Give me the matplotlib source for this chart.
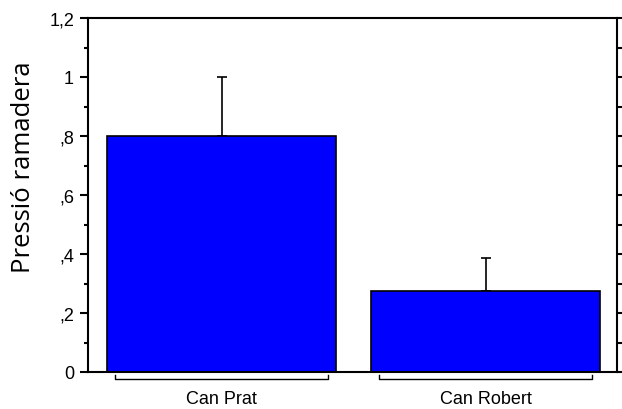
import numpy as np
import matplotlib.pyplot as plt
from matplotlib.ticker import MultipleLocator, FuncFormatter
import matplotlib.transforms as mtransforms

plt.rcParams['font.family'] = ['Liberation Sans', 'DejaVu Sans']

categories = ["Can Prat", "Can Robert"]
means = [0.80, 0.276]
upper_err = [0.20, 0.11]

fig = plt.figure(figsize=(6.22, 4.10), dpi=100)
ax = fig.add_axes([88/622, 1-373/410, 529/622, 354/410])

x = np.arange(len(categories))
ax.bar(x, means, width=0.868, color='#0000ff', edgecolor='black', linewidth=1.2, zorder=2)
ax.errorbar(x, means, yerr=[np.zeros(len(means)), upper_err], fmt='none',
            ecolor='black', elinewidth=1.2, capsize=3.5, capthick=1.2, zorder=1)

ax.set_xlim(-0.506, 1.498)
ax.set_ylim(0, 1.2)
ax.yaxis.set_major_locator(MultipleLocator(0.2))
ax.yaxis.set_minor_locator(MultipleLocator(0.1))

def fmt(v, pos):
    s = ('%g' % round(v, 2)).replace('.', ',')
    if s.startswith('0,'):
        s = s[1:]
    return s

ax.yaxis.set_major_formatter(FuncFormatter(fmt))
ax.tick_params(axis='y', which='major', length=6, width=1.5, labelsize=13, pad=4)
ax.tick_params(axis='y', which='minor', length=3, width=1.5)
ax.set_xticks([])
for s in ax.spines.values():
    s.set_linewidth(1.5)

ax2 = ax.twinx()
ax2.set_ylim(0, 1.2)
ax2.yaxis.set_major_locator(MultipleLocator(0.2))
ax2.yaxis.set_minor_locator(MultipleLocator(0.1))
ax2.tick_params(axis='y', which='both', length=3.5, width=1.5, labelright=False)
for s in ax2.spines.values():
    s.set_visible(False)

# category brackets under the axis
trans = mtransforms.blended_transform_factory(ax.transData, ax.transAxes)
half = 0.404
for xi, lab in zip(x, categories):
    ax.plot([xi-half, xi-half, xi+half, xi+half], [-0.008, -0.02, -0.02, -0.008],
             color='black', linewidth=1.0, transform=trans, clip_on=False)
    ax.text(xi, -0.05, lab, transform=trans, ha='center', va='top', fontsize=13)

ax.set_ylabel("Pressió ramadera", fontsize=18.5,
              family=['Open Sans', 'DejaVu Sans'])
ax.yaxis.set_label_coords(-0.098, 0.58)

fig.savefig("out.png", dpi=100)
